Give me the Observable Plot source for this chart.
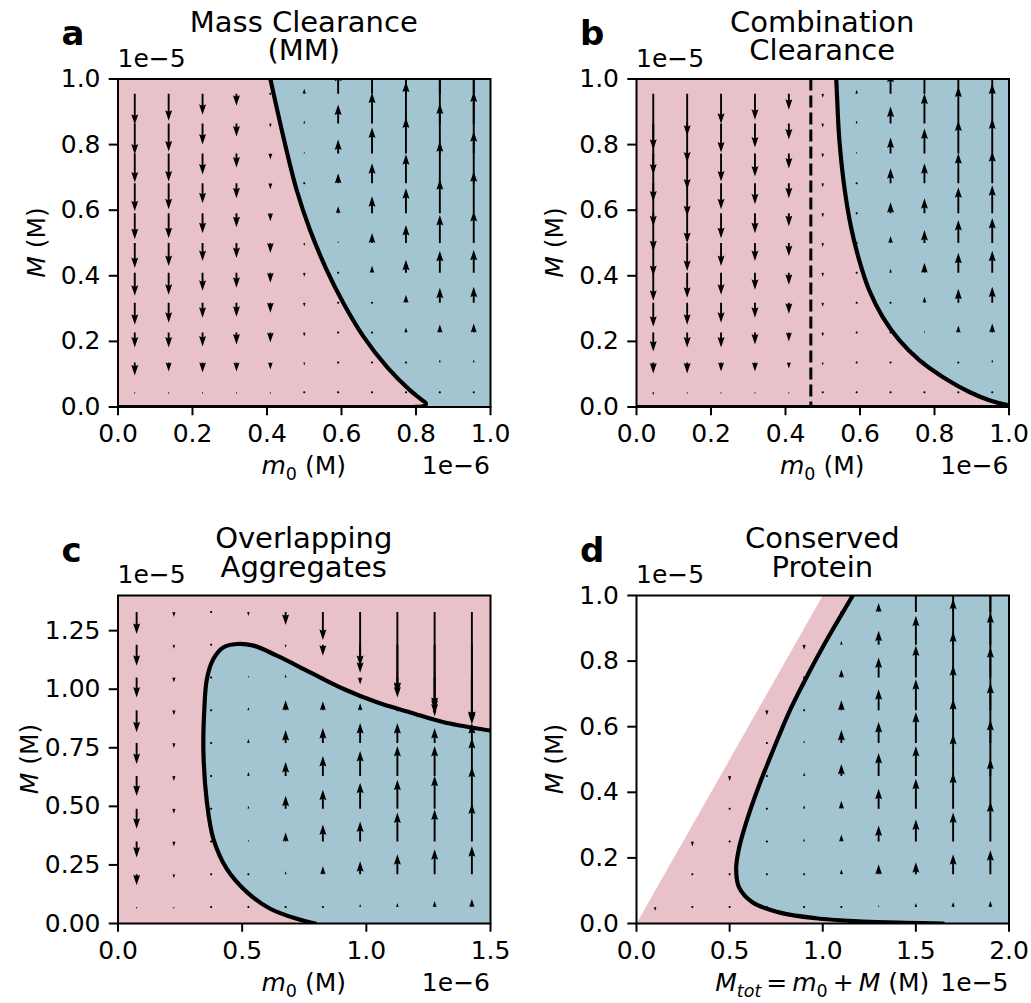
<!DOCTYPE html>
<html>
<head>
<meta charset="utf-8">
<script src="https://cdn.jsdelivr.net/npm/d3@7"></script>
<script src="https://cdn.jsdelivr.net/npm/@observablehq/plot@0.6"></script>
<style>
  html, body { margin: 0; padding: 0; background: #fff; overflow: hidden; }
  #fig { position: relative; width: 1031px; height: 1003px; font-family: "DejaVu Sans", sans-serif; color: #000; }
  #fig svg { position: absolute; }
</style>
</head>
<body>
<div id="fig"></div>
<script>
// Region colours: decay (pink) and growth (blue) of aggregate mass
const pink = "#e9c2c9";
const blue = "#a3c4d1";

// ---------- a: Mass Clearance (MM) ----------
const aM0 = [0.045, 0.136, 0.227, 0.318, 0.409, 0.500, 0.591, 0.682, 0.773, 0.864, 0.955]; // m0, ×1e−6 M
const aM  = [0.045, 0.136, 0.227, 0.318, 0.409, 0.500, 0.591, 0.682, 0.773, 0.864, 0.955]; // M, ×1e−5 M
// dM/dt (arbitrary units), one list per m0 column, from low M to high M
const aRate = [
  [-2, -13, -15, -22, -23, -25, -26, -28, -29, -31, -31],
  [-2, -9, -15, -20, -22, -23, -25, -26, -28, -28, -27],
  [-2, -10, -14, -15, -18, -18, -20, -20, -21, -21, -21],
  [-2, -9, -12, -14, -15, -15, -14, -15, -14, -13, -12],
  [-2, -7, -10, -10, -10, -10, -8, -6, -6, -4, -1],
  [-1, -3, -4, -4, -4, -3, 0.5, 1, 2, 3, 5],
  [-0.5, -1, -1, -1, -0.8, 2, 7, 10, 14, 19, 23],
  [-0.5, -0.8, 0.5, 1.5, 7, 10, 17, 20, 26, 31, 35],
  [-0.5, 1, 5, 8, 13, 18, 25, 29, 36, 42, 48],
  [0.8, 3, 8, 15, 22, 28, 34, 42, 50, 56, 62],
  [1, 3, 9, 16, 23, 32, 42, 52, 62, 72, 82]
];
// dM/dt = 0 boundary
const aEdgeM0 = [0.405, 0.409, 0.444, 0.480, 0.516, 0.561, 0.606, 0.660, 0.723, 0.785, 0.812, 0.826, 0.825, 0.815, 0.790, 0.0];
const aEdgeM  = [1.02, 1.0, 0.823, 0.660, 0.538, 0.416, 0.315, 0.213, 0.121, 0.050, 0.025, 0.012, 0.005, 0.001, 0.0, 0.0];

// ---------- b: Combination Clearance ----------
const bM0 = [0.045, 0.136, 0.227, 0.318, 0.409, 0.500, 0.591, 0.682, 0.773, 0.864, 0.955];
const bM  = [0.045, 0.136, 0.227, 0.318, 0.409, 0.500, 0.591, 0.682, 0.773, 0.864, 0.955];
const bRate = [
  [-3, -11, -19, -24, -28, -33, -38, -43, -48, -51, -56],
  [-2, -11, -15, -22, -25, -28, -30, -33, -36, -39, -42],
  [-2, -9, -15, -20, -22, -23, -25, -26, -28, -29, -30],
  [-2, -9, -12, -15, -17, -18, -20, -21, -23, -24, -26],
  [-2, -6, -9, -11, -12, -13, -13, -15, -15, -16, -16],
  [-1, -3, -4, -4, -4, -4, -4, -4, -4, -4, -4],
  [-0.5, -0.5, -0.5, -0.5, -0.5, 0.5, 1, 1.5, 2, 3, 4],
  [-0.4, -0.5, -0.5, 0.8, 4, 7, 11, 15, 16, 17, 22],
  [-0.4, 0.5, 2, 6, 10, 13, 15, 20, 25, 30, 34],
  [0.3, 1.5, 7, 14, 20, 23, 26, 30, 33, 37, 44],
  [0.5, 3, 9, 16, 22, 25, 28, 32, 35, 40, 45]
];
const bEdgeM0 = [0.534, 0.536, 0.544, 0.558, 0.576, 0.598, 0.625, 0.661, 0.706, 0.760, 0.823, 0.895, 0.949, 1.0, 1.03];
const bEdgeM  = [1.02, 1.0, 0.823, 0.670, 0.548, 0.447, 0.355, 0.274, 0.203, 0.142, 0.091, 0.045, 0.020, 0.005, 0.0];
const bThreshold = [0.468]; // m0 marked by the dashed line

// ---------- c: Overlapping Aggregates ----------
const cM0 = [0.075, 0.225, 0.375, 0.525, 0.675, 0.825, 0.975, 1.125, 1.275, 1.425]; // ×1e−6 M
const cM  = [0.07, 0.21, 0.35, 0.49, 0.63, 0.77, 0.91, 1.05, 1.19, 1.33];           // ×1e−5 M
const cRate = [
  [-2, -11, -16, -20, -20, -21, -22, -20, -21, -22],
  [-2, -4, -5, -5, -5, -5, -5, -5, -4, -5],
  [-0.5, -0.5, -0.5, 0.5, 0.5, 0.5, 0.5, 0.5, -1, -1.5],
  [-0.5, 0.8, 2, 3, 4, 4, 3, 2, -1, -4],
  [0.5, 3, 9, 13, 14, 13, 10, 3, -3, -13],
  [1, 8, 17, 19, 20, 15, 9, 0.5, -11, -28],
  [3, 13, 20, 26, 25, 20, 7, -7, -28, -54],
  [4, 20, 29, 29, 30, 20, 1, -20, -48, -82],
  [6, 25, 32, 33, 30, 15, -6, -37, -66, -96],
  [8, 28, 38, 42, 38, 20, -14, -45, -78, -110]
];
const cEdgeM0 = [0.794, 0.720, 0.613, 0.519, 0.438, 0.384, 0.358, 0.344, 0.347, 0.358, 0.384, 0.425, 0.479, 0.546, 0.640, 0.774, 0.909, 1.043, 1.177, 1.312, 1.5, 1.55];
const cEdgeM  = [0.0, 0.020, 0.063, 0.134, 0.233, 0.361, 0.518, 0.731, 0.901, 1.044, 1.129, 1.179, 1.193, 1.186, 1.143, 1.072, 1.001, 0.944, 0.901, 0.859, 0.823, 0.814];

// ---------- d: Conserved Protein ----------
const dMtot = [0.1, 0.3, 0.5, 0.7, 0.9, 1.1, 1.3, 1.5, 1.7, 1.9]; // ×1e−5 M
const dM    = [0.05, 0.15, 0.25, 0.35, 0.45, 0.55, 0.65, 0.75, 0.85, 0.95]; // ×1e−5 M
// only states with M ≤ Mtot exist
const dRate = [
  [-4],
  [-0.5, -0.5, -5],
  [-0.5, -0.5, -0.5, -0.5, -5],
  [0.3, 0.5, 0.5, 0.5, -0.5, -1, -5],
  [0.5, 1, 3, 3.5, 3.5, 2.5, 1, -0.5, -5],
  [1, 5, 7, 8, 12, 13, 10, 8, 4, -0.5],
  [2, 10, 16, 20, 23, 21, 21, 20, 14, 9],
  [4, 12, 22, 30, 30, 31, 31, 32, 29, 28],
  [5, 20, 29, 36, 42, 44, 45, 46, 46, 45],
  [6, 24, 40, 50, 56, 60, 63, 65, 66, 66]
];
const dEdgeMtot = [1.18, 1.161, 1.035, 0.927, 0.819, 0.729, 0.658, 0.595, 0.550, 0.535, 0.550, 0.622, 0.765, 0.963, 1.215, 1.45, 1.646];
const dEdgeM    = [1.02, 1.0, 0.878, 0.766, 0.644, 0.522, 0.421, 0.319, 0.228, 0.167, 0.111, 0.065, 0.034, 0.016, 0.006, 0.002, 0.0];
// feasible states lie below the line M = Mtot
const dFeasMtot = [0, 1, 2, 2];
const dFeasM    = [0, 1, 1, 0];

// ---------- helpers ----------
const toPts = (X, Y) => X.map((x, i) => ({x, y: Y[i]}));
const quiverTable = (xs, ys, rates) => xs.flatMap((x, i) => rates[i].map((v, j) => ({x, y: ys[j], v})));

// Quiver-style arrow: filled shaft + notched head; short vectors shrink, tiny ones become dots
const SW = 1.9;   // shaft width
const HW = 7;     // head width
const HL = 10.5;  // head length
const HAL = 9.3;  // head axis length (notch)
const quiverArrow = {
  draw(ctx, l) {
    if (l < SW) {
      const rr = SW / 2 + 0.2;
      for (let k = 0; k < 6; k++) {
        const t = (k * Math.PI) / 3;
        k ? ctx.lineTo(rr * Math.cos(t), rr * Math.sin(t)) : ctx.moveTo(rr * Math.cos(t), rr * Math.sin(t));
      }
      ctx.closePath();
      return;
    }
    const s = l < HL ? l / HL : 1;
    const L = l < HL ? HL : l;
    const p = [[-SW / 2, 0], [-SW / 2, -(L - HAL)], [-HW / 2, -(L - HL)], [0, -L], [HW / 2, -(L - HL)], [SW / 2, -(L - HAL)], [SW / 2, 0]];
    p.forEach(([x, y], k) => (k ? ctx.lineTo(x * s, y * s) : ctx.moveTo(x * s, y * s)));
    ctx.closePath();
  }
};

const fig = document.getElementById("fig");

function addText(svg, x, y, parts, opts = {}) {
  const t = d3.select(svg).append("text")
    .attr("x", x).attr("y", y)
    .attr("font-family", '"DejaVu Sans", sans-serif')
    .attr("font-size", opts.size || 25)
    .attr("font-weight", opts.bold ? "bold" : "normal")
    .attr("text-anchor", opts.anchor || "middle")
    .attr("fill", "black");
  if (opts.rotate) t.attr("transform", `rotate(${opts.rotate},${x},${y})`);
  let shift = 0;
  for (const p of parts) {
    const seg = typeof p === "string" ? {t: p} : p;
    const ts = t.append("tspan").text(seg.t);
    if (seg.i) ts.attr("font-style", "italic");
    const want = seg.sub ? 6 : 0;
    if (want !== shift) { ts.attr("dy", want - shift); shift = want; }
    if (seg.sub) ts.attr("font-size", 17.5);
  }
  return t;
}

// two-line centred title in a single text element
function addTitle(svg, x, y, lines, size, gap) {
  const t = d3.select(svg).append("text")
    .attr("x", x).attr("y", y)
    .attr("font-family", '"DejaVu Sans", sans-serif')
    .attr("font-size", size)
    .attr("text-anchor", "middle")
    .attr("fill", "black");
  lines.forEach((line, k) => t.append("tspan").attr("x", x).attr("dy", k ? gap : 0).text(line));
}

function panel(cfg) {
  const marks = [];
  if (cfg.feasible) {
    marks.push(Plot.line(cfg.feasible, {x: "x", y: "y", fill: pink, stroke: "none", clip: true}));
  } else {
    marks.push(Plot.frame({fill: pink, stroke: "none"}));
  }
  marks.push(Plot.line(cfg.growth, {x: "x", y: "y", fill: blue, stroke: "none", clip: true}));
  marks.push(Plot.line(cfg.edge, {x: "x", y: "y", stroke: "black", strokeWidth: 4.2, curve: "catmull-rom", clip: true}));
  if (cfg.extraLines) for (const e of cfg.extraLines) marks.push(Plot.line(e, {x: "x", y: "y", stroke: "black", strokeWidth: 4.2, clip: true}));
  if (cfg.rule) marks.push(Plot.ruleX(cfg.rule, {stroke: "black", strokeWidth: 3, strokeDasharray: "12,5"}));
  marks.push(Plot.vector(cfg.quiver, {
    x: "x", y: "y",
    length: (d) => Math.abs(d.v),
    rotate: (d) => (d.v < 0 ? 180 : 0),
    anchor: "start",
    shape: quiverArrow,
    fill: "black", stroke: "none",
    clip: true
  }));
  marks.push(Plot.frame({stroke: "black", strokeWidth: 2}));
  marks.push(Plot.axisX({ticks: cfg.xTicks, tickFormat: cfg.xFmt, tickSize: 8.75, tickPadding: 8.75, strokeWidth: 2, label: null, fontSize: 25}));
  marks.push(Plot.axisY({ticks: cfg.yTicks, tickFormat: cfg.yFmt, tickSize: 8.75, tickPadding: 8.75, strokeWidth: 2, label: null, fontSize: 25}));

  const svg = Plot.plot({
    width: cfg.w, height: cfg.h,
    marginLeft: cfg.ml, marginRight: cfg.mr, marginTop: cfg.mt, marginBottom: cfg.mb,
    style: {fontFamily: '"DejaVu Sans", sans-serif', fontSize: "25px", color: "black", background: "transparent", overflow: "visible"},
    x: {domain: cfg.xDomain},
    y: {domain: cfg.yDomain},
    length: {domain: [0, 100], range: [0, 100]},
    marks
  });
  svg.style.left = cfg.left + "px";
  svg.style.top = cfg.top + "px";
  fig.appendChild(svg);

  const T = cfg.mt, B = cfg.h - cfg.mb, Lx = cfg.ml, Rx = cfg.w - cfg.mr;
  const cx = (Lx + Rx) / 2, cy = (T + B) / 2;
  addTitle(svg, cx, T - 47, cfg.title, 29, 28.5);
  addText(svg, Lx - 56, T - 33.5, [cfg.letter], {size: 34, bold: true, anchor: "start"});
  addText(svg, Lx, T - 12, [cfg.yOffset], {anchor: "start"});
  addText(svg, Rx, B + 67.5, [cfg.xOffset], {anchor: "end"});
  addText(svg, cx, B + 67.5, cfg.xLabel);
  addText(svg, cfg.yLabelX, cy, [{t: "M", i: true}, " (M)"], {rotate: -90});
}

const f1 = d3.format(".1f"), f2 = d3.format(".2f");
const m0Label = [{t: "m", i: true}, {t: "0", sub: true}, " (M)"];

panel({
  left: 0, top: 0, w: 516, h: 500, ml: 117.5, mr: 26, mt: 78.5, mb: 93.5,
  xDomain: [0, 1], yDomain: [0, 1],
  xTicks: [0, 0.2, 0.4, 0.6, 0.8, 1.0], yTicks: [0, 0.2, 0.4, 0.6, 0.8, 1.0], xFmt: f1, yFmt: f1,
  growth: toPts(aEdgeM0.slice(0, 13), aEdgeM.slice(0, 13)).concat(toPts([0.84, 1.05, 1.05], [-0.01, -0.01, 1.05])),
  edge: toPts(aEdgeM0, aEdgeM),
  quiver: quiverTable(aM0, aM, aRate),
  title: ["Mass Clearance", "(MM)"], letter: "a",
  xOffset: "1e\u22126", yOffset: "1e\u22125", xLabel: m0Label, yLabelX: 45
});

panel({
  left: 518, top: 0, w: 513, h: 500, ml: 118, mr: 22.5, mt: 78.5, mb: 93.5,
  xDomain: [0, 1], yDomain: [0, 1],
  xTicks: [0, 0.2, 0.4, 0.6, 0.8, 1.0], yTicks: [0, 0.2, 0.4, 0.6, 0.8, 1.0], xFmt: f1, yFmt: f1,
  growth: toPts(bEdgeM0, bEdgeM).concat(toPts([1.05, 1.05], [0, 1.05])),
  edge: toPts(bEdgeM0, bEdgeM),
  extraLines: [toPts([0, 1], [0, 0])],
  rule: bThreshold,
  quiver: quiverTable(bM0, bM, bRate),
  title: ["Combination", "Clearance"], letter: "b",
  xOffset: "1e\u22126", yOffset: "1e\u22125", xLabel: m0Label, yLabelX: 45
});

panel({
  left: 0, top: 500, w: 516, h: 503, ml: 117.5, mr: 26, mt: 95, mb: 80,
  xDomain: [0, 1.5], yDomain: [0, 1.4],
  xTicks: [0, 0.5, 1.0, 1.5], yTicks: [0, 0.25, 0.5, 0.75, 1.0, 1.25], xFmt: f1, yFmt: f2,
  growth: toPts(cEdgeM0, cEdgeM).concat(toPts([1.55], [0])),
  edge: toPts(cEdgeM0, cEdgeM),
  quiver: quiverTable(cM0, cM, cRate),
  title: ["Overlapping", "Aggregates"], letter: "c",
  xOffset: "1e\u22126", yOffset: "1e\u22125", xLabel: m0Label, yLabelX: 38
});

panel({
  left: 518, top: 500, w: 513, h: 503, ml: 118, mr: 22.5, mt: 95, mb: 80,
  xDomain: [0, 2], yDomain: [0, 1],
  xTicks: [0, 0.5, 1.0, 1.5, 2.0], yTicks: [0, 0.2, 0.4, 0.6, 0.8, 1.0], xFmt: f1, yFmt: f1,
  feasible: toPts(dFeasMtot, dFeasM),
  growth: toPts(dEdgeMtot, dEdgeM).concat(toPts([2.05, 2.05], [0, 1.05])),
  edge: toPts(dEdgeMtot, dEdgeM),
  quiver: quiverTable(dMtot, dM, dRate),
  title: ["Conserved", "Protein"], letter: "d",
  xOffset: "1e\u22125", yOffset: "1e\u22125",
  xLabel: [{t: "M", i: true}, {t: "tot", i: true, sub: true}, "\u2009=\u2009", {t: "m", i: true}, {t: "0", sub: true}, "\u2009+\u2009", {t: "M", i: true}, " (M)"],
  yLabelX: 45
});
</script>
</body>
</html>
